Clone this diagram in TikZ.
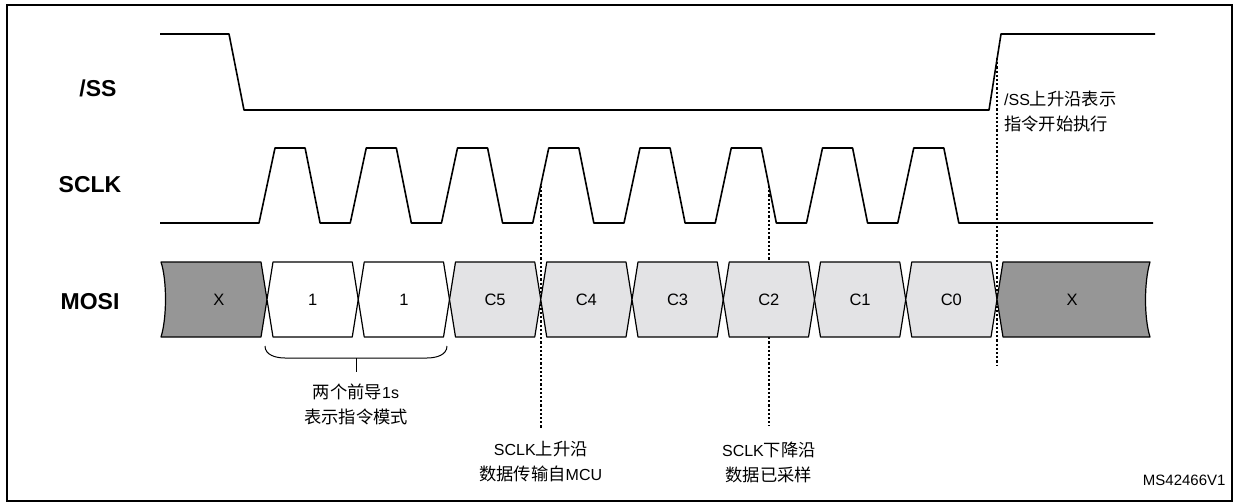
\documentclass[tikz,border=0pt]{standalone}
\usepackage{fontspec}
\setmainfont{Liberation Sans}
\newfontfamily\cjk[Scale=1.08]{Noto Sans CJK SC}
\usetikzlibrary{positioning}
\definecolor{xgray}{rgb}{0.59,0.59,0.59}
\definecolor{cgray}{rgb}{0.89,0.89,0.90}
\newcommand{\zh}[1]{{\cjk #1}}

\begin{document}
\begin{tikzpicture}[x=1pt,y=-1pt,
  sig/.style={line width=1.6pt,line join=round},
  cell/.style={line width=1.2pt,line join=round},
  signame/.style={font=\fontsize{23}{24}\selectfont\bfseries},
  val/.style={font=\fontsize{16.5}{18}\selectfont},
  note/.style={font=\fontsize{16}{25}\selectfont,align=center,inner sep=0pt},
  guide/.style={line width=1.5pt,dash pattern=on 2.2pt off 2pt}]
\useasboundingbox (0,0) rectangle (1235,503);
\draw[line width=1.5pt] (7,5) rectangle (1232,501);

\node[signame] (ss) at (98,88) {/SS};
\node[signame] (sclk) at (90,185) {SCLK};
\node[signame] (mosi) at (90,302) {MOSI};

% marker points
\coordinate (ssup) at (997,58);
\coordinate (ssend) at (997,365);
\coordinate (rise3) at (540.75,186);
\coordinate (rise3end) at (540.75,428);
\coordinate (fall5) at (768.9,186);
\coordinate (fall5end) at (768.9,426);
\coordinate (bracetip) at (356,372);

\draw[guide] (ssup) -- (ssend);
\draw[guide] (rise3) -- (rise3end);
\draw[guide] (fall5) -- (fall5end);

\draw[cell,fill=xgray] (267,299.5) -- (261,262) -- (161,262)
  .. controls (167,280) and (167,318) .. (161,337) -- (261,337) -- cycle;
\node[val] (x0) at (219,300) {X};
\foreach \k/\t/\c in {0/1/white,1/1/white,2/C5/cgray,3/C4/cgray,4/C3/cgray,5/C2/cgray,6/C1/cgray,7/C0/cgray} {
  \draw[cell,fill=\c] ({267+91.25*\k},299.5) -- ++(6,-37.5) -- ++(79.25,0)
    -- ++(6,37.5) -- ++(-6,37.5) -- ++(-79.25,0) -- cycle;
  \node[val] (c\k) at ({312.6+91.25*\k},300) {\t};
}
\draw[cell,fill=xgray] (997,299.5) -- (1003,262) -- (1150,262)
  .. controls (1144,282) and (1144,318) .. (1150,337) -- (1003,337) -- cycle;
\node[val] (x1) at (1072,300) {X};

\draw[sig] (160,34) -- (229,34) -- (244,110) -- (989,110) -- (1001,34) -- (1155,34);
\draw[sig] (160,223) \foreach \k in {0,...,7} {
  -- ({259+91.25*\k},223) -- ({275+91.25*\k},148) -- ({305.1+91.25*\k},148) -- ({320.1+91.25*\k},223)
} -- (1153,223);

\draw[line width=1pt] (265,346) to[out=-90,in=180] (285,358) -- (427,358) to[out=0,in=-90] (447,346);
\draw[line width=1pt] (356,358) -- (bracetip);

\node[note, below=12pt of bracetip] (lead) {\zh{两个前导}1s\\\zh{表示指令模式}};
\node[note, below=13pt of rise3end] (risenote) {SCLK\zh{上升沿}\\\zh{数据传输自}MCU};
\node[note, below=16pt of fall5end] (fallnote) {SCLK\zh{下降沿}\\\zh{数据已采样}};
\node[note, align=left, anchor=north west] (ssnote) at (1004,91) {/SS\zh{上升沿表示}\\\zh{指令开始执行}};
\node[font=\fontsize{15}{18}\selectfont, anchor=base east] (figid) at (1229,485) {MS42466V1};
\end{tikzpicture}
\end{document}
